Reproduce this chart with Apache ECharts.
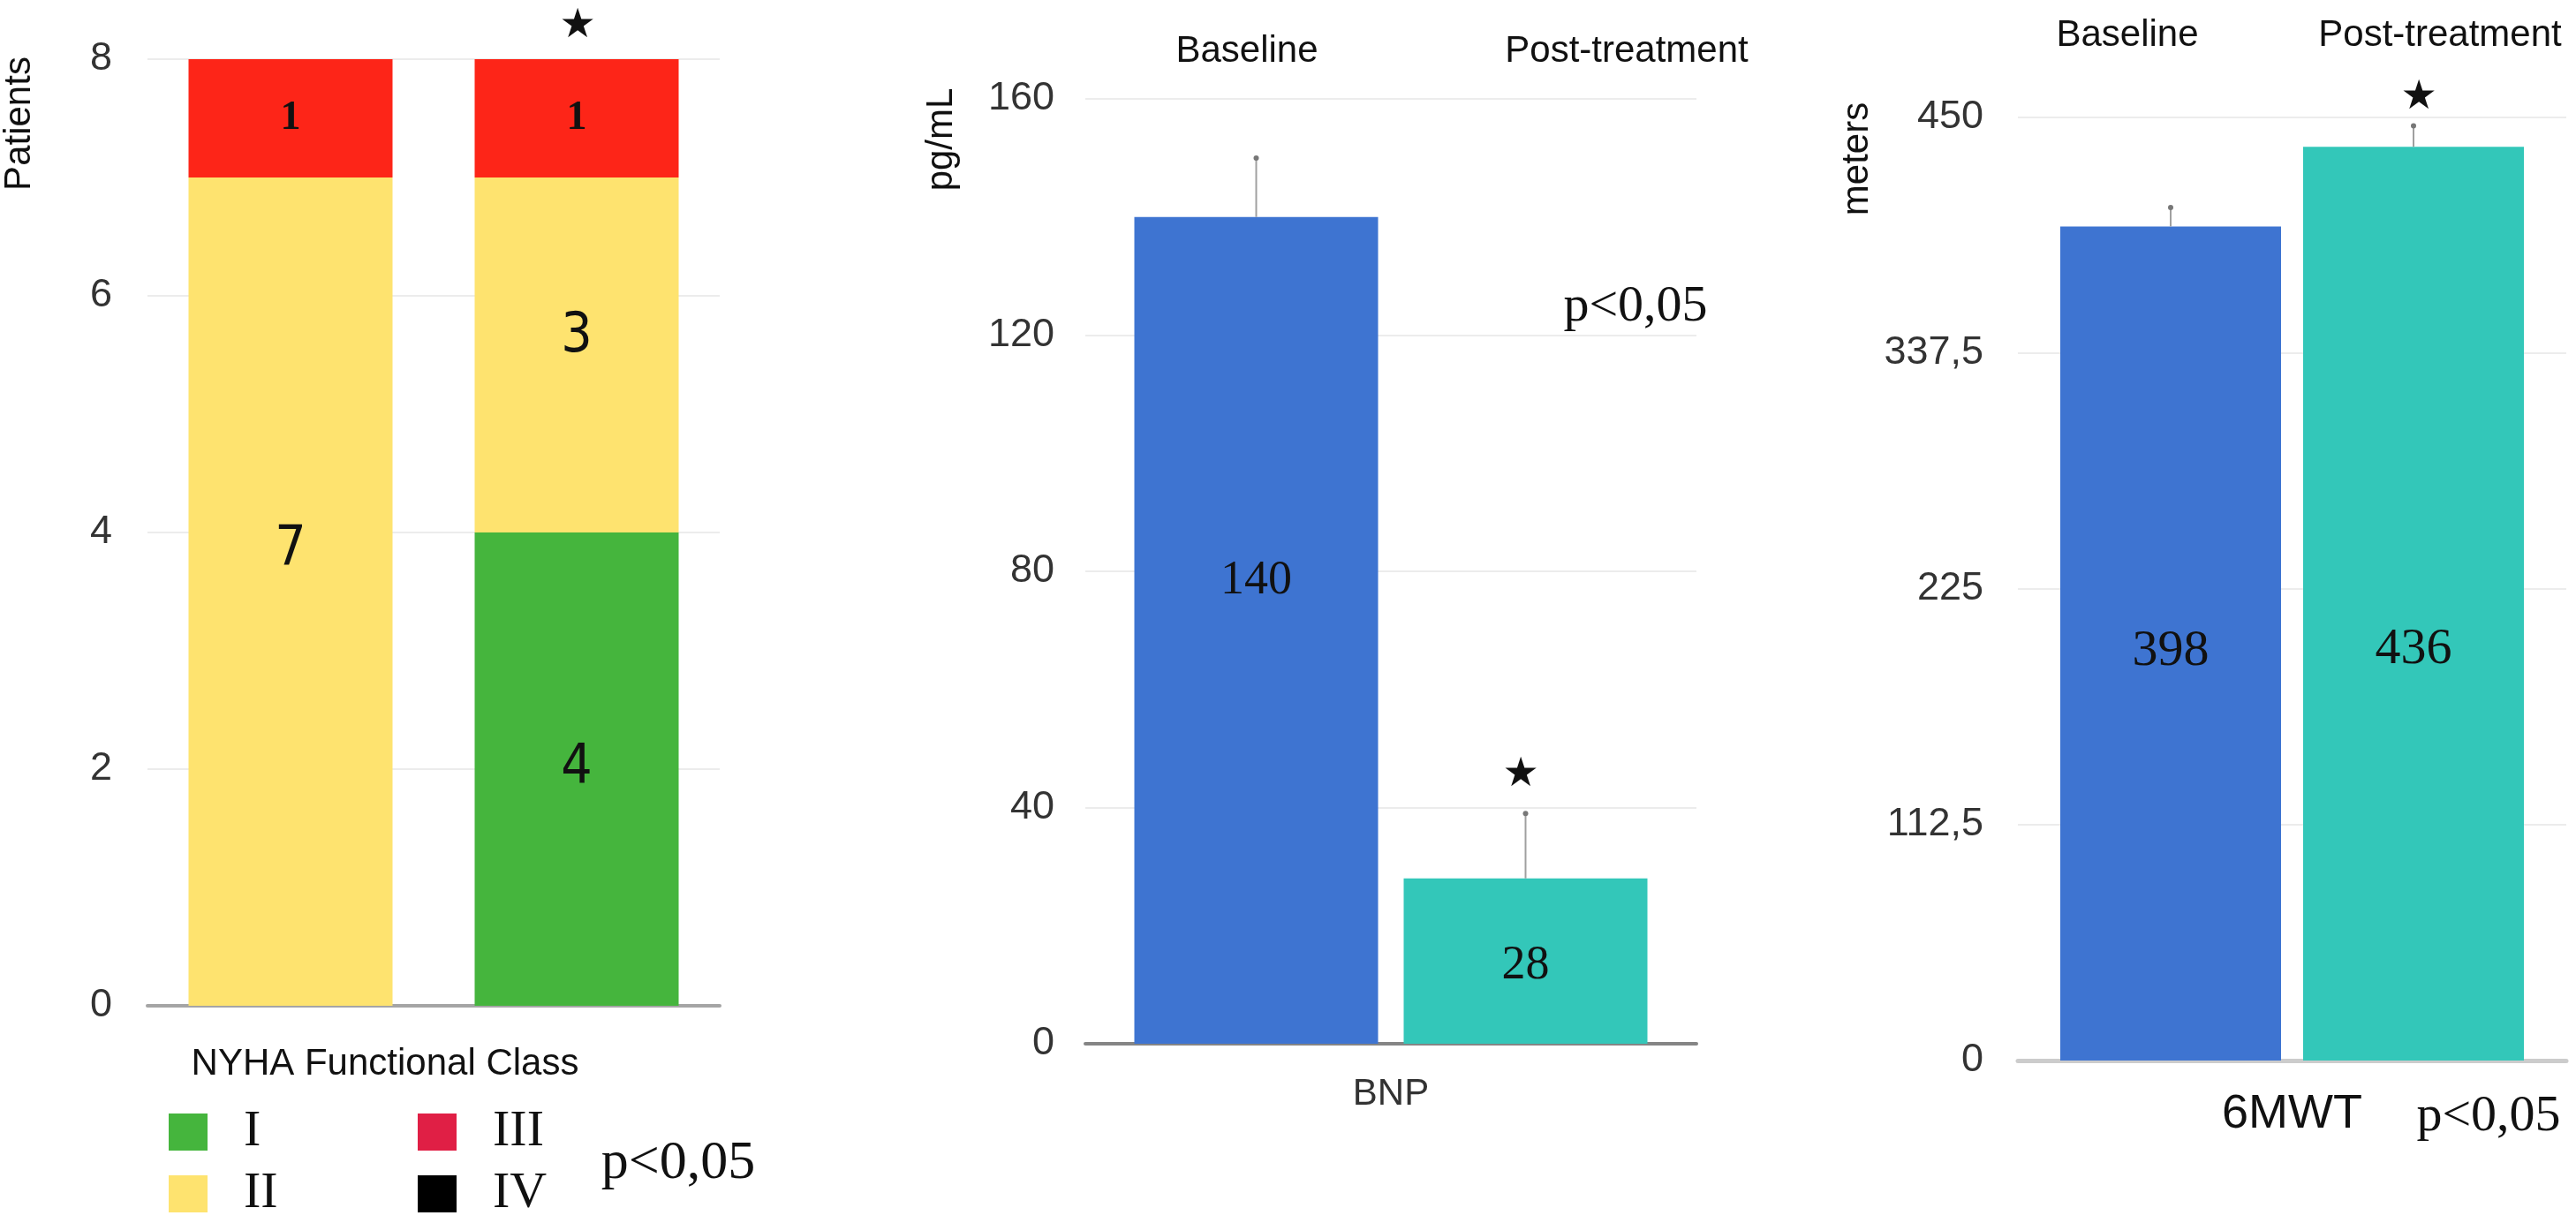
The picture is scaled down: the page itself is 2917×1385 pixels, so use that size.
<!DOCTYPE html>
<html>
<head>
<meta charset="utf-8">
<script src="https://cdn.jsdelivr.net/npm/echarts@6/dist/echarts.min.js"></script>
<style>
html,body{margin:0;padding:0;background:#fff;}
#chart{width:2917px;height:1385px;}
</style>
</head>
<body>
<div id="chart"></div>
<script>
// ---------------- data ----------------
const groupNames = ['Baseline', 'Post-treatment'];
const nyhaClassI = [0, 4];
const nyhaClassII = [7, 3];
const nyhaClassIII = [1, 1];
const nyhaClassIV = [0, 0];
const nyhaLegendOrder = ['I', 'III', 'II', 'IV'];
const nyhaTicks = [0, 2, 4, 6, 8];

const bnpCategory = ['BNP'];
const bnpValues = [140, 28];      // baseline, post-treatment
const bnpErrors = [10, 11];
const bnpTicks = [0, 40, 80, 120, 160];

const mwtCategory = ['6MWT'];
const mwtValues = [398, 436];
const mwtErrors = [9, 10];
const mwtTicks = [0, 112.5, 225, 337.5, 450];

// ---------------- styles ----------------
const SANS = 'Liberation Sans, Arial, sans-serif';
const NARROW = 'Liberation Sans Narrow, DejaVu Sans Condensed, Liberation Sans, sans-serif';
const SERIF = 'Liberation Serif, Times New Roman, serif';
const C = {
  green: '#45b53d', yellow: '#fee36f', red: '#fd2518', redLegend: '#e01f45', black: '#000',
  blue: '#3e74d1', teal: '#33c7b9'
};
const P2_BAR = 276, P2_GAP = 29;
const P3_BAR = 250, P3_GAP = 25;

function axisFrom(ticks) {
  return { min: ticks[0], max: ticks[ticks.length - 1], interval: ticks[1] - ticks[0] };
}
function yAxisCommon(gridIndex, ticks, margin, fmt) {
  const a = axisFrom(ticks);
  return {
    type: 'value', gridIndex: gridIndex, min: a.min, max: a.max, interval: a.interval,
    axisLine: { show: false }, axisTick: { show: false },
    axisLabel: { fontFamily: SANS, fontSize: 45, color: '#333', margin: margin, formatter: fmt },
    splitLine: { lineStyle: { color: '#ececec', width: 2 } }
  };
}
function errRender(offset) {
  return function (params, api) {
    const i = api.value(3);
    const base = api.coord([api.value(0), api.value(1)]);
    const top = api.coord([api.value(0), api.value(2)]);
    const dx = (i === 0 ? -1 : 1) * offset;
    return {
      type: 'group',
      children: [
        { type: 'line', shape: { x1: base[0] + dx, y1: base[1], x2: base[0] + dx, y2: top[1] },
          style: { stroke: '#a0a0a0', lineWidth: 2 } },
        { type: 'circle', shape: { cx: base[0] + dx, cy: top[1], r: 3 }, style: { fill: '#777' } }
      ]
    };
  };
}
function errData(values, errors) {
  return values.map((v, i) => [0, v, v + errors[i], i]);
}
const hideZero = p => (p.value > 0 ? String(p.value) : '');
function txt(text, x, y, font, extra) {
  return Object.assign({
    type: 'text', x: x, y: y,
    style: { text: text, font: font, fill: '#111', align: 'center', verticalAlign: 'middle' }
  }, extra || {});
}
function valueLabel(pos, size) {
  return { show: true, position: pos, align: 'center', verticalAlign: 'middle',
    fontFamily: SERIF, fontSize: size, color: '#111' };
}

const option = {
  backgroundColor: '#fff',
  animation: false,
  grid: [
    { left: 167, top: 67, width: 648, height: 1072 },
    { left: 1229, top: 112, width: 692, height: 1070 },
    { left: 2285, top: 133, width: 621, height: 1068 }
  ],
  xAxis: [
    { type: 'category', gridIndex: 0, data: groupNames,
      axisLine: { lineStyle: { color: '#a5a5a5', width: 4 } }, axisTick: { show: false },
      axisLabel: { show: false } },
    { type: 'category', gridIndex: 1, data: bnpCategory,
      axisLine: { lineStyle: { color: '#858585', width: 4 } }, axisTick: { show: false },
      axisLabel: { fontFamily: SANS, fontSize: 42, color: '#333', margin: 36 } },
    { type: 'category', gridIndex: 2, data: mwtCategory,
      axisLine: { lineStyle: { color: '#cccccc', width: 5 } }, axisTick: { show: false },
      axisLabel: { fontFamily: SANS, fontSize: 54, color: '#111', margin: 34 } }
  ],
  yAxis: [
    yAxisCommon(0, nyhaTicks, 40),
    yAxisCommon(1, bnpTicks, 35),
    yAxisCommon(2, mwtTicks, 39, v => String(v).replace('.', ','))
  ],
  legend: {
    left: 191, top: 1253, width: 600, orient: 'horizontal', padding: 0,
    itemWidth: 44, itemHeight: 42, itemGap: 12, icon: 'rect', selectedMode: false,
    data: nyhaLegendOrder.map(n => n === 'III' ? { name: n, itemStyle: { color: C.redLegend } } : { name: n }),
    textStyle: { fontFamily: SERIF, fontSize: 58, color: '#111', lineHeight: 42, height: 42,
      width: 185, overflow: 'none', padding: [0, 0, 0, 36] }
  },
  series: [
    // panel 1: NYHA stacked bars
    { name: 'I', type: 'bar', stack: 'nyha', xAxisIndex: 0, yAxisIndex: 0, data: nyhaClassI,
      barWidth: 231, itemStyle: { color: C.green },
      label: { show: true, position: 'inside', formatter: hideZero, fontFamily: NARROW, fontSize: 62, color: '#111' } },
    { name: 'II', type: 'bar', stack: 'nyha', xAxisIndex: 0, yAxisIndex: 0, data: nyhaClassII,
      barWidth: 231, itemStyle: { color: C.yellow },
      label: { show: true, position: ['50%', '45%'], align: 'center', verticalAlign: 'middle',
        formatter: hideZero, fontFamily: NARROW, fontSize: 62, color: '#111' } },
    { name: 'III', type: 'bar', stack: 'nyha', xAxisIndex: 0, yAxisIndex: 0, data: nyhaClassIII,
      barWidth: 231, itemStyle: { color: C.red },
      label: { show: true, position: 'inside', formatter: hideZero, fontFamily: SERIF, fontWeight: 'bold', fontSize: 46, color: '#111' } },
    { name: 'IV', type: 'bar', stack: 'nyha', xAxisIndex: 0, yAxisIndex: 0, data: nyhaClassIV,
      barWidth: 231, itemStyle: { color: C.black },
      label: { show: true, position: 'inside', formatter: hideZero, fontFamily: SERIF, fontSize: 46, color: '#fff' } },

    // panel 2: BNP
    { name: groupNames[0], type: 'bar', xAxisIndex: 1, yAxisIndex: 1, data: [bnpValues[0]],
      barWidth: P2_BAR, barGap: (P2_GAP / P2_BAR * 100) + '%', itemStyle: { color: C.blue },
      label: valueLabel(['50%', '44%'], 54) },
    { name: groupNames[1], type: 'bar', xAxisIndex: 1, yAxisIndex: 1, data: [bnpValues[1]],
      barWidth: P2_BAR, barGap: (P2_GAP / P2_BAR * 100) + '%', itemStyle: { color: C.teal },
      label: valueLabel(['50%', '53%'], 54) },
    { type: 'custom', xAxisIndex: 1, yAxisIndex: 1, renderItem: errRender((P2_BAR + P2_GAP) / 2),
      data: errData(bnpValues, bnpErrors), z: 5 },

    // panel 3: 6MWT
    { name: groupNames[0], type: 'bar', xAxisIndex: 2, yAxisIndex: 2, data: [mwtValues[0]],
      barWidth: P3_BAR, barGap: (P3_GAP / P3_BAR * 100) + '%', itemStyle: { color: C.blue },
      label: valueLabel(['50%', '51%'], 58) },
    { name: groupNames[1], type: 'bar', xAxisIndex: 2, yAxisIndex: 2, data: [mwtValues[1]],
      barWidth: P3_BAR, barGap: (P3_GAP / P3_BAR * 100) + '%', itemStyle: { color: C.teal },
      label: valueLabel(['50%', '55%'], 58) },
    { type: 'custom', xAxisIndex: 2, yAxisIndex: 2, renderItem: errRender((P3_BAR + P3_GAP) / 2),
      data: errData(mwtValues, mwtErrors), z: 5 }
  ],
  graphic: [
    // axis names
    txt('Patients', 22, 140, '42px ' + SANS, { rotation: Math.PI / 2 }),
    txt('pg/mL', 1066, 158, '42px ' + SANS, { rotation: Math.PI / 2 }),
    txt('meters', 2103, 180, '42px ' + SANS, { rotation: Math.PI / 2 }),
    // panel 1
    txt('NYHA Functional Class', 436, 1205, '42px ' + SANS),
    txt('p<0,05', 768, 1318, '62px ' + SERIF),
    txt('★', 654, 30, '46px DejaVu Sans'),
    // panel 2
    txt(groupNames[0], 1412, 58, '42px ' + SANS),
    txt(groupNames[1], 1842, 58, '42px ' + SANS),
    txt('p<0,05', 1852, 348, '58px ' + SERIF),
    txt('★', 1722, 878, '46px DejaVu Sans'),
    // panel 3
    txt(groupNames[0], 2409, 40, '42px ' + SANS),
    txt(groupNames[1], 2763, 40, '42px ' + SANS),
    txt('p<0,05', 2818, 1265, '58px ' + SERIF),
    txt('★', 2739, 111, '46px DejaVu Sans')
  ]
};

const chart = echarts.init(document.getElementById('chart'), null, { renderer: 'canvas' });
chart.setOption(option);
</script>
</body>
</html>
